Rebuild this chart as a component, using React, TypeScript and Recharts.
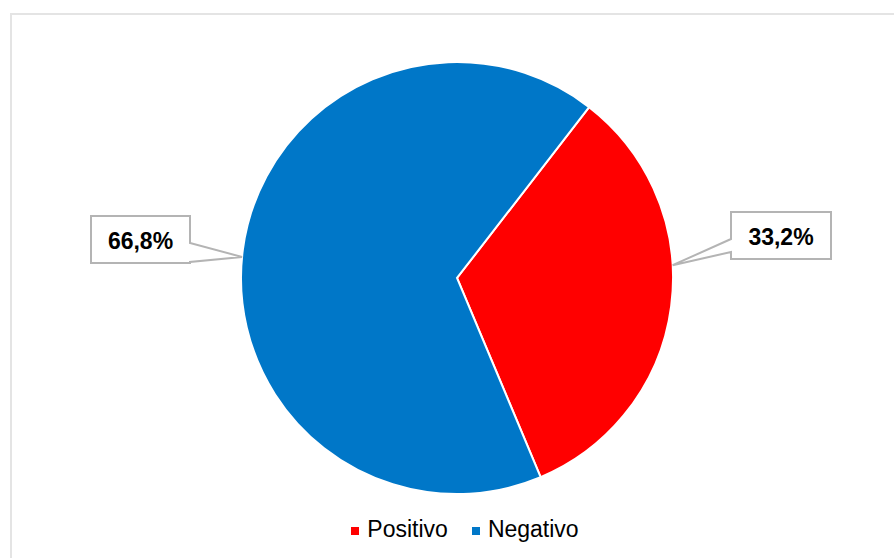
import { PieChart, Pie, Cell, Legend } from 'recharts'

const categories = ['Positivo', 'Negativo']
const values = [33.2, 66.8]
const colors = ['#ff0000', '#0077c8']

// callout boxes, relative to pie centre: box rect + pointer angle (deg above horizontal)
const callouts = [
  { x: 274, y: -66, w: 100, h: 47, tipAngle: 3.4, baseTop: 27, baseBottom: 40 },
  { x: -366, y: -62, w: 99, h: 47, tipAngle: 5.6, baseTop: 27, baseBottom: 46 },
]

const data = categories.map((name, i) => ({ name, value: values[i] }))
const FONT = '"Liberation Sans", Arial, sans-serif'

function CalloutLabel(props: any) {
  const { cx, cy, outerRadius, index, value } = props
  const c = callouts[index]
  const bx = cx + c.x
  const by = cy + c.y
  const a = (c.tipAngle * Math.PI) / 180
  const right = c.x > 0
  const tx = cx + (right ? 1 : -1) * outerRadius * Math.cos(a)
  const ty = cy - outerRadius * Math.sin(a)
  let d: string
  if (right) {
    d = `M${bx},${by} L${bx + c.w},${by} L${bx + c.w},${by + c.h} L${bx},${by + c.h} L${bx},${by + c.baseBottom} L${tx},${ty} L${bx},${by + c.baseTop} Z`
  } else {
    const rx = bx + c.w
    d = `M${bx},${by} L${rx},${by} L${rx},${by + c.baseTop} L${tx},${ty} L${rx},${by + c.baseBottom} L${rx},${by + c.h} L${bx},${by + c.h} Z`
  }
  const label = value.toFixed(1).replace('.', ',') + '%'
  return (
    <g>
      <path d={d} fill="#fff" stroke="#b4b4b4" strokeWidth={2} />
      <text
        x={bx + c.w / 2}
        y={by + c.h / 2 + 1}
        textAnchor="middle"
        dominantBaseline="central"
        fontFamily={FONT}
        fontWeight="bold"
        fontSize={23}
        fill="#000"
      >
        {label}
      </text>
    </g>
  )
}

function LegendContent() {
  return (
    <div style={{ display: 'flex', justifyContent: 'center', fontFamily: FONT, fontSize: 23, color: '#000' }}>
      {categories.map((name, i) => (
        <div key={name} style={{ display: 'flex', alignItems: 'center', marginRight: i === 0 ? 24 : 0 }}>
          <span style={{ width: 8, height: 8, background: colors[i], marginRight: 8, marginTop: 3, display: 'inline-block' }} />
          <span>{name}</span>
        </div>
      ))}
    </div>
  )
}

export default function App() {
  return (
    <div style={{ position: 'absolute', left: 0, top: 0, width: 894, height: 558, overflow: 'hidden', background: '#fff' }}>
      <div
        style={{
          position: 'absolute',
          left: 10,
          top: 13,
          width: 900,
          height: 600,
          borderLeft: '2px solid #e4e4e4',
          borderTop: '2px solid #e4e4e4',
        }}
      />
      <PieChart width={894} height={558} style={{ position: 'absolute', left: 0, top: 0 }}>
        <Pie
          data={data}
          dataKey="value"
          nameKey="name"
          cx={452}
          cy={273}
          outerRadius={216}
          startAngle={52.3}
          endAngle={-307.7}
          stroke="#fff"
          strokeWidth={2}
          label={CalloutLabel}
          labelLine={false}
          isAnimationActive={false}
        >
          {data.map((d, i) => (
            <Cell key={d.name} fill={colors[i]} />
          ))}
        </Pie>
        <Legend content={LegendContent} wrapperStyle={{ top: 516, left: 18, width: 894 }} />
      </PieChart>
    </div>
  )
}
